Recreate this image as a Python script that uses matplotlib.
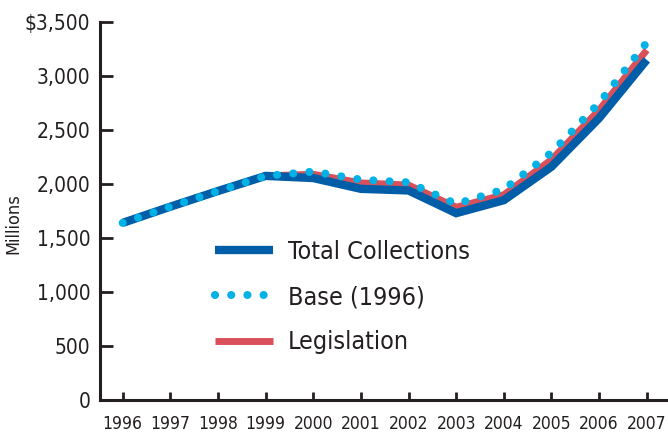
import matplotlib
matplotlib.use("Agg")
import matplotlib.pyplot as plt

years = [1996, 1997, 1998, 1999, 2000, 2001, 2002, 2003, 2004, 2005, 2006, 2007]
total_collections = [1640, 1790, 1935, 2075, 2055, 1955, 1940, 1730, 1850, 2160, 2610, 3150]
base_1996 = [1640, 1790, 1935, 2075, 2115, 2040, 2015, 1815, 1950, 2290, 2750, 3310]
legislation = [1640, 1790, 1935, 2075, 2090, 2010, 1990, 1785, 1900, 2225, 2685, 3240]
y_ticks = [0, 500, 1000, 1500, 2000, 2500, 3000, 3500]
y_tick_labels = ["0", "500", "1,000", "1,500", "2,000", "2,500", "3,000", "$3,500"]

plt.rcParams["font.family"] = "DejaVu Sans"
plt.rcParams["font.stretch"] = "condensed"

ink = "#231F20"
fig = plt.figure(figsize=(6.68, 4.34), dpi=100)
ax = fig.add_axes([100 / 668, 34 / 434, 568 / 668, 378 / 434])

ax.plot(years, legislation, color="#D9505A", lw=5.0, solid_capstyle="butt",
        label="Legislation", zorder=2)
ax.plot(years, total_collections, color="#005DA8", lw=6.0, solid_capstyle="butt",
        solid_joinstyle="miter", label="Total Collections", zorder=3)
ax.plot(years, base_1996, color="#00B2E6", lw=5.8, linestyle=(0, (0.01, 2.0)),
        dash_capstyle="round", label="Base (1996)", zorder=4)

ax.set_xlim(1995.524, 2007.446)
ax.set_ylim(0, 3500)
ax.set_xticks(years)
ax.set_xticklabels([str(y) for y in years])
ax.set_yticks(y_ticks)
ax.set_yticklabels(y_tick_labels)

for s in ["top", "right"]:
    ax.spines[s].set_visible(False)
for s in ["left", "bottom"]:
    ax.spines[s].set_linewidth(2.2)
    ax.spines[s].set_color(ink)
ax.tick_params(axis="y", direction="in", length=9.5, width=2, color=ink,
               labelsize=15, labelcolor=ink, pad=7)
ax.tick_params(axis="x", direction="in", length=6, width=2, color=ink,
               labelsize=12.5, labelcolor=ink, pad=11)

ax.set_ylabel("Millions", fontsize=13, color=ink)
ax.yaxis.set_label_coords(-0.136, 0.466)

handles, labels = ax.get_legend_handles_labels()
order = [1, 2, 0]
leg = ax.legend([handles[i] for i in order], [labels[i] for i in order],
                loc="upper left", bbox_to_anchor=(0.185, 0.45), frameon=False,
                fontsize=18, handlelength=2.3, labelspacing=0.85, handletextpad=0.6,
                labelcolor=ink, borderaxespad=0)

fig.savefig("out.png", dpi=100)
